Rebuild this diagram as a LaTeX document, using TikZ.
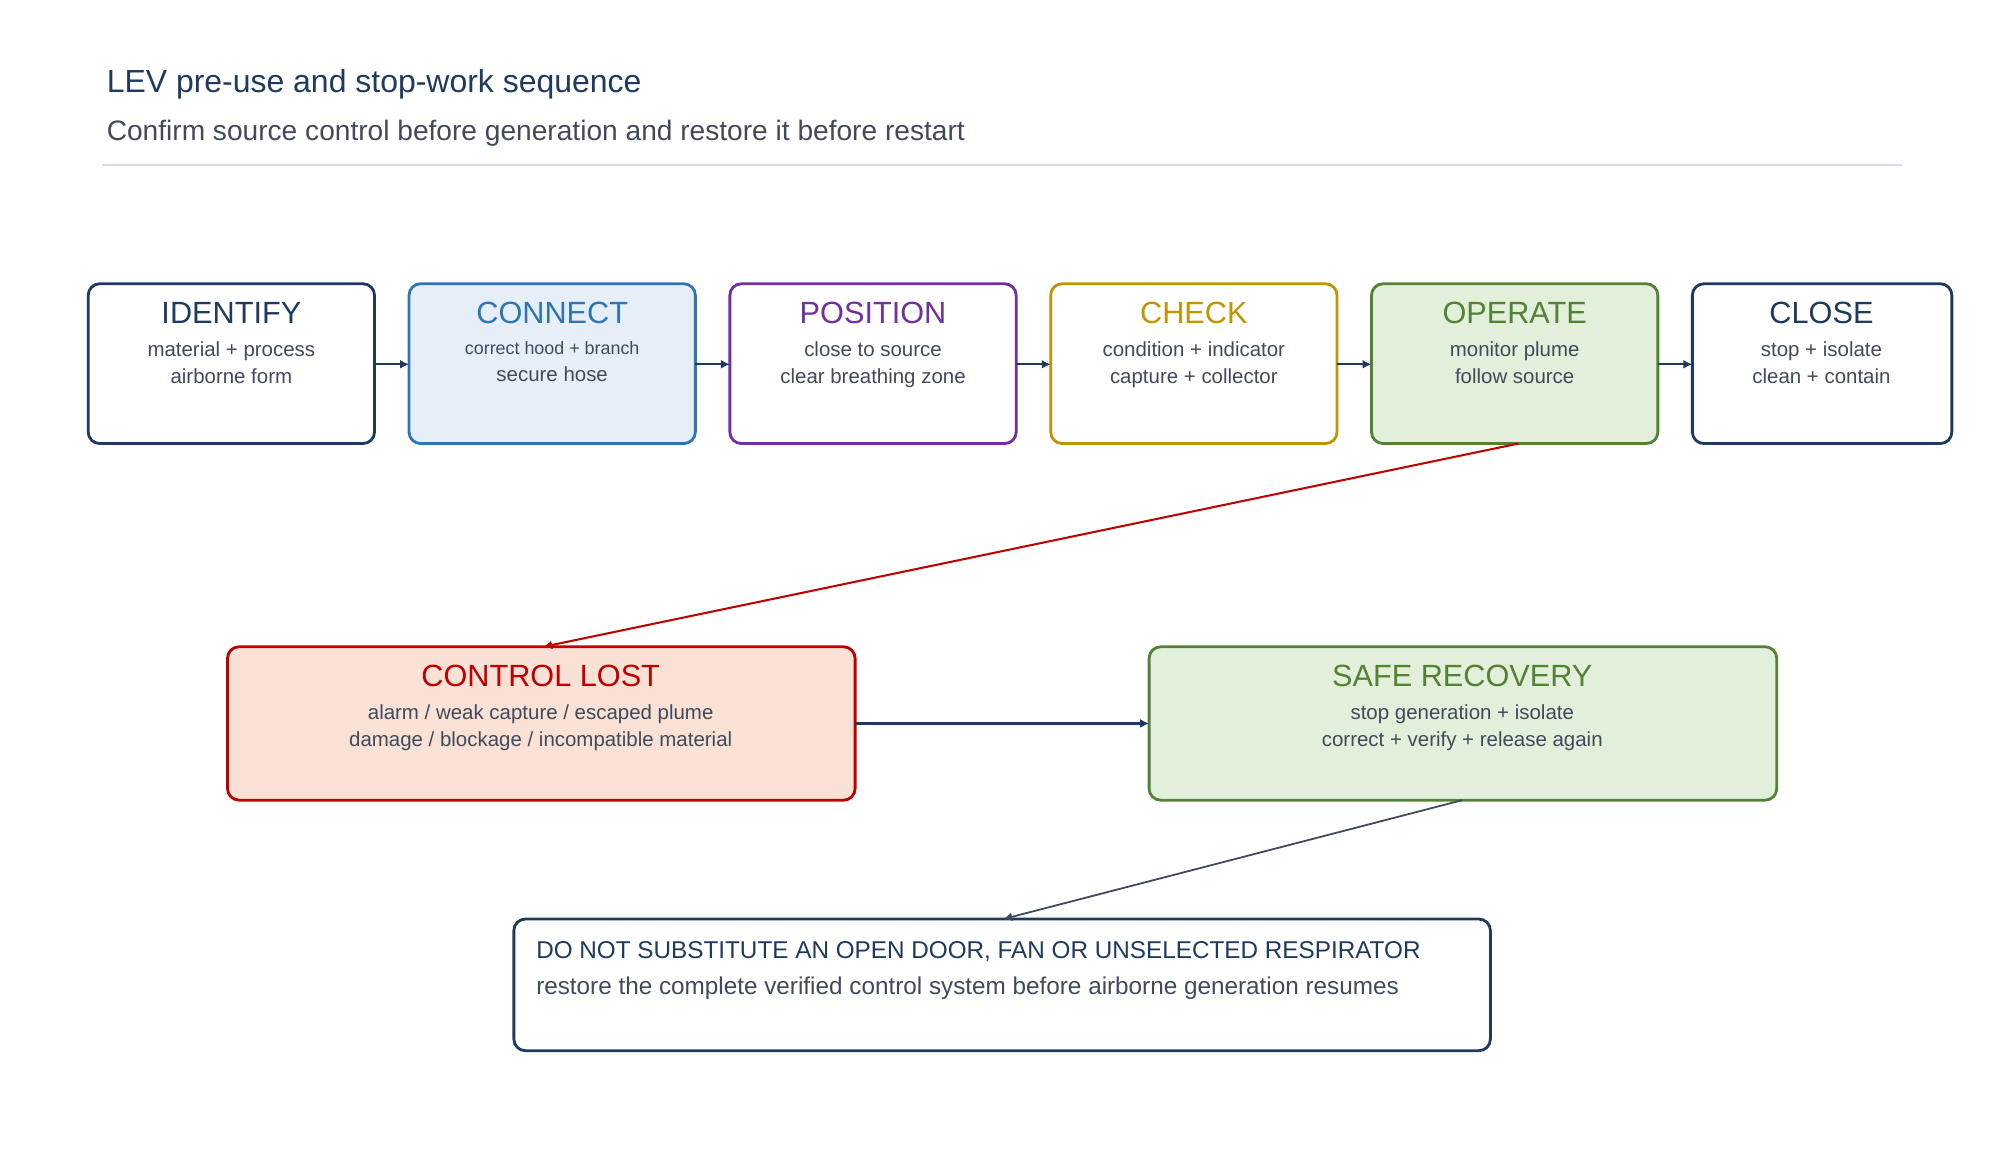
\documentclass[tikz,border=0pt]{standalone}
\usepackage{fontspec}
\setmainfont{Liberation Sans}
\usetikzlibrary{arrows.meta}
\definecolor{navy}{HTML}{1F3A5F}
\definecolor{txt}{HTML}{404A5A}
\definecolor{cblue}{HTML}{2E75B6}
\definecolor{fblue}{HTML}{E6EFF7}
\definecolor{cpurple}{HTML}{7030A0}
\definecolor{cgold}{HTML}{C09500}
\definecolor{cgreen}{HTML}{548235}
\definecolor{fgreen}{HTML}{E2EFDA}
\definecolor{cred}{HTML}{C00000}
\definecolor{fred}{HTML}{FAE1D5}
\definecolor{rule}{HTML}{D5DAF0}
\tikzset{
  stepbox/.style={draw=#1,line width=2.2pt,rounded corners=9pt,fill=white},
  boxtitle/.style={text=#1,font=\fontsize{24}{28}\selectfont,anchor=center},
  boxbody/.style={text=txt,font=\fontsize{16}{21}\selectfont,align=center,anchor=north},
  flow/.style={line width=1.8pt,draw=navy,-{Latex[length=7pt,width=7pt]}},
}
\begin{document}
\begin{tikzpicture}[x=1pt,y=-1pt]
\useasboundingbox (0,0) rectangle (1560,908);
\node[anchor=base west,text=navy,font=\fontsize{25}{30}\selectfont](title) at (80,72){LEV pre-use and stop-work sequence};
\node[anchor=base west,text=txt,font=\fontsize{22}{26}\selectfont](subtitle) at (80,110){Confirm source control before generation and restore it before restart};
\draw[rule,line width=1.5pt](80,129)--(1488,129);
% top row
\path[stepbox=navy](69,222) rectangle (293,347) coordinate (idB);
\node[boxtitle=navy](idT) at (181,245){IDENTIFY};
\node[boxbody](idL) at (181,264){material + process\\airborne form};
\path[stepbox=cblue,fill=fblue](320,222) rectangle (544,347);
\node[boxtitle=cblue](coT) at (432,245){CONNECT};
\node[boxbody](coL) at (432,264){{\fontsize{14}{21}\selectfont correct hood + branch}\\secure hose};
\path[stepbox=cpurple](571,222) rectangle (795,347);
\node[boxtitle=cpurple](poT) at (683,245){POSITION};
\node[boxbody](poL) at (683,264){close to source\\clear breathing zone};
\path[stepbox=cgold](822,222) rectangle (1046,347);
\node[boxtitle=cgold](chT) at (934,245){CHECK};
\node[boxbody](chL) at (934,264){condition + indicator\\capture + collector};
\path[stepbox=cgreen,fill=fgreen](1073,222) rectangle (1297,347);
\node[boxtitle=cgreen](opT) at (1185,245){OPERATE};
\node[boxbody](opL) at (1185,264){monitor plume\\follow source};
\path[stepbox=navy](1324,222) rectangle (1527,347);
\node[boxtitle=navy](clT) at (1425,245){CLOSE};
\node[boxbody](clL) at (1425,264){stop + isolate\\clean + contain};
\foreach \a/\b in {293/320,544/571,795/822,1046/1073,1297/1324}
  \draw[flow](\a,285)--(\b,285);
% second row
\path[stepbox=cred,fill=fred](178,506) rectangle (669,626);
\node[boxtitle=cred](lostT) at (423,529){CONTROL LOST};
\node[boxbody](lostL) at (423,548){alarm / weak capture / escaped plume\\damage / blockage / incompatible material};
\path[stepbox=cgreen,fill=fgreen](899,506) rectangle (1390,626);
\node[boxtitle=cgreen](recT) at (1144,529){SAFE RECOVERY};
\node[boxbody](recL) at (1144,548){stop generation + isolate\\correct + verify + release again};
\path[stepbox=navy](402,719) rectangle (1166,822);
\node[anchor=base west,text=navy,font=\fontsize{19}{23}\selectfont](warn) at (416,750){DO NOT SUBSTITUTE AN OPEN DOOR, FAN OR UNSELECTED RESPIRATOR};
\node[anchor=base west,text=txt,font=\fontsize{19}{23}\selectfont](warnL) at (416,778){restore the complete verified control system before airborne generation resumes};
\coordinate (opS) at (1188,347);
\coordinate (lostN) at (425,506);
\coordinate (recS) at (1144,626);
\coordinate (warnN) at (785,719);
\draw[flow,draw=cred,line width=1.6pt](opS)--(lostN);
\draw[flow](669,566)--(899,566);
\draw[flow,draw=txt,line width=1.4pt](recS)--(warnN);
\end{tikzpicture}
\end{document}
